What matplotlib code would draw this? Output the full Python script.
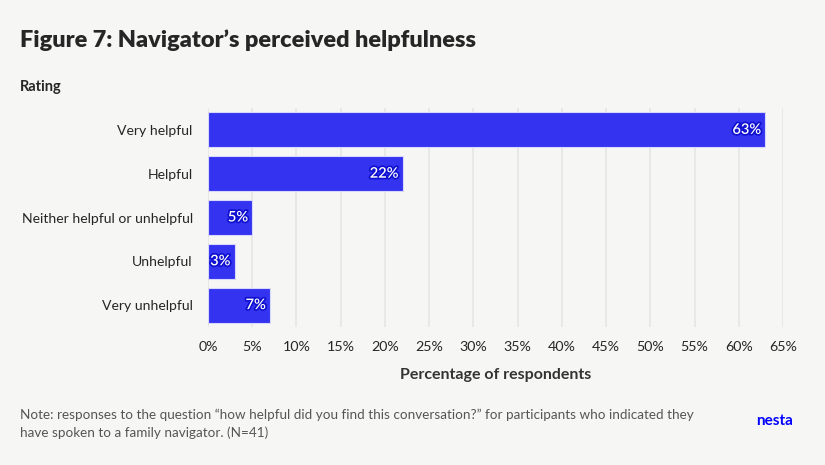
import matplotlib.pyplot as plt
import matplotlib.patheffects as pe
import numpy as np

plt.rcParams['font.family'] = ['Lato', 'DejaVu Sans']

categories = ['Very helpful', 'Helpful', 'Neither helpful or unhelpful',
              'Unhelpful', 'Very unhelpful']
values = [63, 22, 5, 3, 7]
xticks = list(range(0, 70, 5))

bg = '#F6F7F5'
blue = '#3333F0'
dark = '#262626'

fig = plt.figure(figsize=(8.25, 4.65), dpi=100, facecolor=bg)
W, H = 825, 465
ax = fig.add_axes([208 / W, 1 - 327 / H, (783 - 208) / W, (327 - 108) / H])
ax.set_facecolor(bg)

y = np.arange(len(categories))
ax.barh(y, values, height=0.8, color=blue, edgecolor='#D8D8FF', linewidth=0.8, zorder=3)
for yi, v in zip(y, values):
    ax.text(v - 0.45, yi, '{}%'.format(v), ha='right', va='center', color='white',
            fontsize=10.5, fontweight='semibold', zorder=4,
            path_effects=[pe.withStroke(linewidth=2.5, foreground='#1010D0')])

ax.set_xlim(0, 65)
ax.set_ylim(len(categories) - 0.5, -0.5)
ax.set_yticks(y)
ax.set_yticklabels(categories, fontsize=10.1, color=dark)
ax.set_xticks(xticks)
ax.set_xticklabels(['{}%'.format(t) for t in xticks], fontsize=10.3, color=dark)
ax.tick_params(length=0, pad=11, axis='y')
ax.tick_params(length=0, pad=10, axis='x')
ax.grid(axis='x', color='#E6E6E6', linewidth=1.2, zorder=0)
for s in ax.spines.values():
    s.set_visible(False)
ax.set_xlabel('Percentage of respondents', fontsize=11.5, fontweight='bold',
              color='#333333', labelpad=11)

fig.text(20 / W, 1 - 40 / H, "Figure 7: Navigator\u2019s perceived helpfulness",
         fontsize=16.9, fontweight='heavy', color=dark, va='center')
fig.text(20 / W, 1 - 87 / H, 'Rating', fontsize=10.5, fontweight='bold',
         color=dark, va='center')
fig.text(20 / W, 1 - 424 / H,
         'Note: responses to the question \u201chow helpful did you find this conversation?\u201d '
         'for participants who indicated they\nhave spoken to a family navigator. (N=41)',
         fontsize=9.7, color='#555555', va='center', linespacing=1.5)
fig.text(793 / W, 1 - 421 / H, 'nesta', fontsize=11, fontweight='bold',
         color='#0000FF', ha='right', va='center')

fig.savefig('out.png', dpi=100, facecolor=bg)
